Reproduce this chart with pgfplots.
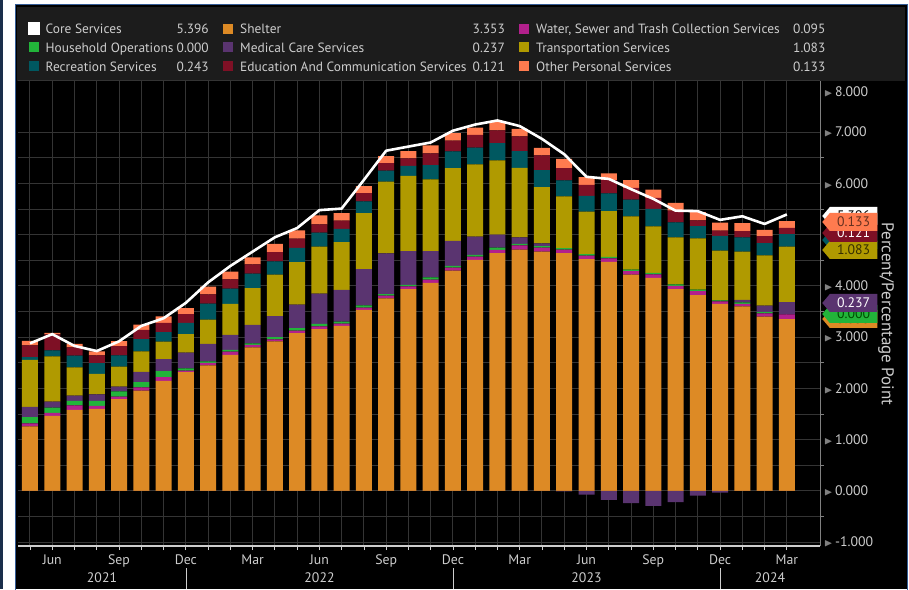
\documentclass[border=0pt]{standalone}
\usepackage{graphicx}
\usepackage{amssymb}
\usepackage{pgfplots}
\pgfplotsset{compat=1.18}
\usepackage{pgfplotstable}
\usepackage{fontspec}
\setmainfont{PT Sans}
\usetikzlibrary{shapes.symbols}
\definecolor{shelter}{RGB}{221,138,37}
\definecolor{water}{RGB}{178,32,140}
\definecolor{house}{RGB}{34,180,58}
\definecolor{medical}{RGB}{90,52,112}
\definecolor{transp}{RGB}{176,154,0}
\definecolor{recr}{RGB}{0,88,96}
\definecolor{educ}{RGB}{126,16,37}
\definecolor{other}{RGB}{255,123,79}
\definecolor{gridc}{RGB}{52,52,52}
\definecolor{txt}{RGB}{205,205,205}
\definecolor{legbg}{RGB}{28,28,28}
\definecolor{frameblue}{RGB}{52,92,150}
\newcommand{\fs}{\fontsize{13.8}{15}\selectfont}
\newcommand{\fl}{\fontsize{13.4}{15}\selectfont}

\pgfplotstableread{
idx shelter water house medical transp recr educ other medneg core
0  1.26  0.06  0.12  0.20  0.92  0.05  0.23  0.09  0      2.88
1  1.465 0.06  0.10  0.12  0.88  0.12  0.31  0.03  0      3.06
2  1.58  0.09  0.09  0.10  0.55  0.23  0.16  0.07  0      2.83
3  1.60  0.06  0.10  0.125 0.40  0.21  0.15  0.08  0      2.73
4  1.79  0.05  0.105 0.09  0.39  0.22  0.18  0.10  0      2.92
5  1.96  0.06  0.105 0.20  0.40  0.24  0.18  0.10  0      3.22
6  2.15  0.07  0.12  0.235 0.34  0.185 0.18  0.125 0      3.37
7  2.32  0.03  0.04  0.31  0.36  0.22  0.17  0.12  0      3.67
8  2.45  0.05  0.03  0.34  0.475 0.31  0.18  0.15  0      4.07
9  2.656 0.065 0.033 0.29  0.605 0.30  0.18  0.15  0      4.39
10 2.80  0.05  0.03  0.36  0.72  0.28  0.18  0.14  0      4.67
11 2.92  0.04  0.04  0.41  0.81  0.26  0.18  0.16  0      4.95
12 3.08  0.05  0.05  0.455 0.83  0.28  0.18  0.16  0      5.13
13 3.16  0.05  0.05  0.59  0.92  0.27  0.16  0.18  0      5.48
14 3.22  0.045 0.04  0.62  0.93  0.26  0.16  0.145 0      5.51
15 3.535 0.045 0.04  0.71  1.09  0.23  0.16  0.14  0      6.07
16 3.76  0.05  0.03  0.795 1.40  0.215 0.145 0.14  0      6.64
17 3.94  0.05  0.03  0.66  1.47  0.195 0.145 0.14  0      6.72
18 4.06  0.065 0.045 0.51  1.40  0.28  0.23  0.155 0      6.80
19 4.30  0.06  0.03  0.49  1.42  0.325 0.21  0.15  0      7.03
20 4.51  0.065 0.03  0.36  1.41  0.325 0.25  0.14  0      7.15
21 4.64  0.065 0.045 0.25  1.45  0.34  0.245 0.165 0      7.23
22 4.71  0.08  0.03  0.13  1.355 0.325 0.29  0.145 0      7.12
23 4.67  0.08  0.03  0.05  1.10  0.33  0.29  0.145 0      6.87
24 4.64  0.07  0.03  0     1.01  0.31  0.24  0.18  -0.01  6.57
25 4.525 0.065 0.03  0     0.83  0.31  0.215 0.15  -0.07  6.13
26 4.47  0.07  0.03  0     0.89  0.345 0.26  0.13  -0.175 6.09
27 4.22  0.07  0.03  0     1.04  0.325 0.23  0.15  -0.235 5.89
28 4.16  0.065 0.03  0     0.91  0.34  0.215 0.16  -0.29  5.70
29 3.94  0.06  0.03  0     0.92  0.29  0.23  0.15  -0.22  5.47
30 3.82  0.08  0.03  0     1.00  0.24  0.11  0.16  -0.09  5.46
31 3.65  0.05  0.02  0     0.97  0.29  0.10  0.155 -0.03  5.29
32 3.60  0.05  0.03  0.05  0.94  0.28  0.12  0.155 0      5.36
33 3.40  0.065 0.03  0.12  0.98  0.24  0.14  0.12  0      5.21
34 3.353 0.095 0.000 0.237 1.083 0.243 0.121 0.133 0      5.396
}\data

\begin{document}
\begin{tikzpicture}
\useasboundingbox (0pt,0pt) rectangle (909pt,589pt);
\fill[white] (0pt,0pt) rectangle (909pt,589pt);
\fill[frameblue!50!black] (0pt,0pt) rectangle (2.5pt,589pt);
\fill[black] (15.5pt,0pt) rectangle (907.5pt,584.5pt);
\draw[frameblue,line width=1.5pt] (15.5pt,-1pt) -- (15.5pt,584.5pt) -- (907.5pt,584.5pt) -- (907.5pt,-1pt);
\fill[legbg] (17pt,508pt) rectangle (905pt,582pt);

\begin{axis}[
  at={(18pt,43pt)}, anchor=south west,
  width=802pt, height=465pt, scale only axis,
  xmin=-0.539, xmax=35.49, ymin=-1.074, ymax=8.0,
  ybar stacked, bar width=16pt,
  axis x line*=bottom, axis y line*=right,
  x axis line style={draw=txt, line width=1.2pt},
  y axis line style={draw=gray, line width=1pt},
  xtick={0,...,34},
  xticklabels={,Jun,,,Sep,,,Dec,,,Mar,,,Jun,,,Sep,,,Dec,,,Mar,,,Jun,,,Sep,,,Dec,,,Mar},
  ytick={-1,0,...,7},
  extra y ticks={8},
  extra y tick labels={\textcolor{gray}{\scalebox{0.8}{$\blacktriangleright$}}\,8.000},
  extra y tick style={yticklabel style={yshift=-11pt}, grid=major},
  minor y tick num=1,
  grid=both,
  major grid style={draw=gridc, line width=1pt},
  minor grid style={draw=gridc, line width=1pt},
  tick align=outside,
  major tick length=4pt, minor tick length=4pt,
  every major y tick/.append style={draw=none},
  every minor y tick/.append style={draw=gray, line width=0.8pt},
  every major x tick/.append style={draw=txt, line width=0.8pt},
  /pgf/number format/assume math mode=true,
  tick label style={font=\fs, text=txt},
  yticklabel={\textcolor{gray}{\scalebox{0.8}{$\blacktriangleright$}}\,\pgfmathprintnumber[fixed,fixed zerofill,precision=3]{\tick}},
  yticklabel style={anchor=west, inner xsep=0pt, xshift=0pt},
  xticklabel style={yshift=-1pt},
]
\addplot[fill=shelter, draw=none] table[x=idx,y=shelter]{\data};
\addplot[fill=water, draw=none] table[x=idx,y=water]{\data};
\addplot[fill=house, draw=none] table[x=idx,y=house]{\data};
\addplot[fill=medical, draw=none] table[x=idx,y=medical]{\data};
\addplot[fill=transp, draw=none] table[x=idx,y=transp]{\data};
\addplot[fill=recr, draw=none] table[x=idx,y=recr]{\data};
\addplot[fill=educ, draw=none] table[x=idx,y=educ]{\data};
\addplot[fill=other, draw=none] table[x=idx,y=other]{\data};
\end{axis}

\begin{axis}[
  at={(18pt,43pt)}, anchor=south west,
  width=802pt, height=465pt, scale only axis,
  xmin=-0.539, xmax=35.49, ymin=-1.074, ymax=8.0,
  hide axis, ybar, bar width=16pt,
]
\addplot[fill=medical, draw=none, bar shift=0pt] table[x=idx,y=medneg]{\data};
\addplot[sharp plot, draw=white, line width=2.6pt, line join=round, no marks] table[x=idx,y=core]{\data};
\end{axis}

% year labels and separators
\foreach \xx/\yy in {102/2021, 319.5/2022, 586.5/2023, 770/2024}
  \node[text=txt, font=\fs] at (\xx pt, 11pt) {\yy};
\foreach \xx in {186, 453, 720}
  \draw[txt, line width=0.8pt] (\xx pt,0pt) -- (\xx pt,21pt);

% y axis title
\node[rotate=-90, text=txt, font=\fontsize{17}{19}\selectfont] at (886pt,275pt) {Percent/Percentage Point};

% right tags
\tikzset{tag/.style={signal, signal to=west, signal pointer angle=100, anchor=west, minimum height=18pt, minimum width=55pt, inner xsep=3pt, inner ysep=0pt, font=\fs}}
\node[tag, fill=white, text=black] at (822pt,373pt) {5.396};
\node[tag, fill=shelter, text=black] at (822pt,270pt) {3.353};
\node[tag, fill=house, text=black!70!green] at (822pt,275pt) {0.000};
\node[tag, fill=medical, text=white] at (822pt,286pt) {0.237};
\node[tag, fill=recr, text=white] at (822pt,349pt) {0.243};
\node[tag, fill=transp, text=black!70!transp] at (822pt,339pt) {1.083};
\node[tag, fill=educ, text=white] at (822pt,356pt) {0.121};
\node[tag, fill=other, text=black!60!other] at (822pt,367pt) {0.133};

% legend
\begin{scope}[every node/.style={font=\fl, text=txt, inner sep=0pt}]
\fill[white] (28pt,554pt) rectangle (40pt,567pt);
\node[anchor=base west] at (45.5pt,555pt) {Core Services};
\node[anchor=base east] at (209pt,555pt) {5.396};
\fill[house] (29pt,536.5pt) rectangle (39pt,546.5pt);
\node[anchor=base west] at (45.5pt,536.3pt) {Household Operations};
\node[anchor=base east] at (209pt,536.3pt) {0.000};
\fill[recr] (29pt,517.5pt) rectangle (39pt,527.5pt);
\node[anchor=base west] at (45.5pt,517.3pt) {Recreation Services};
\node[anchor=base east] at (209pt,517.3pt) {0.243};

\fill[shelter] (223pt,555pt) rectangle (233pt,565pt);
\node[anchor=base west] at (240pt,555pt) {Shelter};
\node[anchor=base east] at (505pt,555pt) {3.353};
\fill[medical] (223pt,536.5pt) rectangle (233pt,546.5pt);
\node[anchor=base west] at (240pt,536.3pt) {Medical Care Services};
\node[anchor=base east] at (505pt,536.3pt) {0.237};
\fill[educ] (223pt,517.5pt) rectangle (233pt,527.5pt);
\node[anchor=base west] at (240pt,517.3pt) {Education And Communication Services};
\node[anchor=base east] at (505pt,517.3pt) {0.121};

\fill[water] (519pt,555pt) rectangle (529pt,565pt);
\node[anchor=base west] at (536pt,555pt) {Water, Sewer and Trash Collection Services};
\node[anchor=base east] at (825.5pt,555pt) {0.095};
\fill[transp] (519pt,536.5pt) rectangle (529pt,546.5pt);
\node[anchor=base west] at (536pt,536.3pt) {Transportation Services};
\node[anchor=base east] at (825.5pt,536.3pt) {1.083};
\fill[other] (519pt,517.5pt) rectangle (529pt,527.5pt);
\node[anchor=base west] at (536pt,517.3pt) {Other Personal Services};
\node[anchor=base east] at (825.5pt,517.3pt) {0.133};
\end{scope}
\end{tikzpicture}
\end{document}
